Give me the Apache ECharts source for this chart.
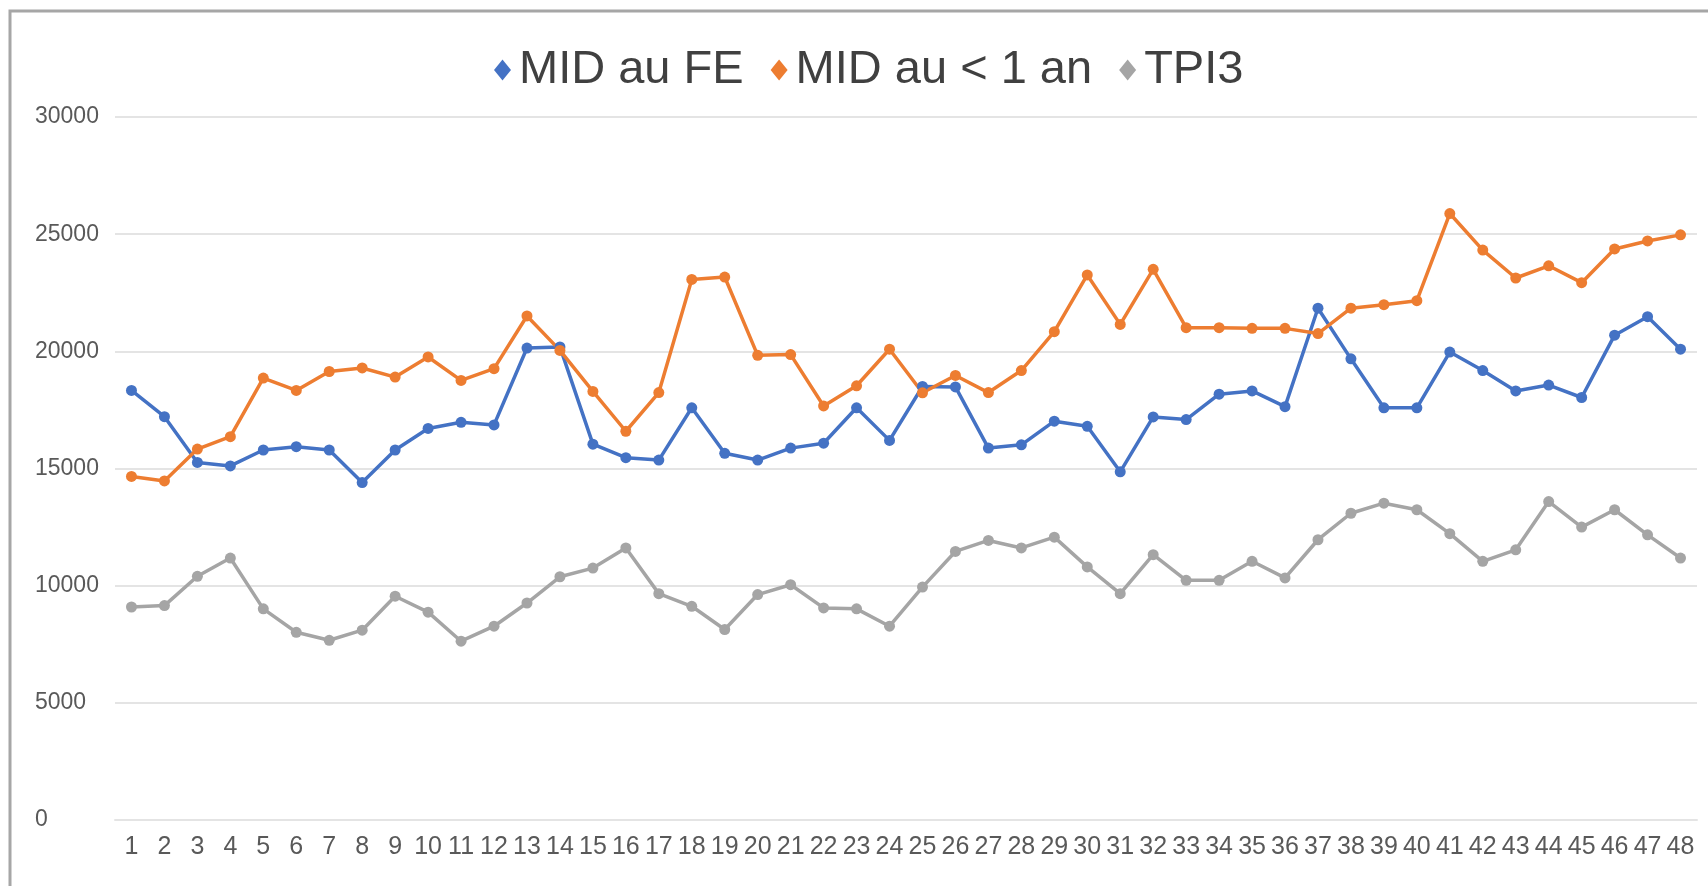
<!DOCTYPE html>
<html>
<head>
<meta charset="utf-8">
<script src="https://cdn.jsdelivr.net/npm/echarts@6/dist/echarts.min.js"></script>
<style>
    html, body {margin: 0; padding: 0; background: #ffffff;}
    #chart {width: 1708px; height: 886px;}
</style>
</head>
<body>
<div id="chart"></div>
<script>
//---------------------------Data---------------------------
//categories 1..48
let categories = ['1','2','3','4','5','6','7','8','9','10','11','12','13','14','15','16',
    '17','18','19','20','21','22','23','24','25','26','27','28','29','30','31','32',
    '33','34','35','36','37','38','39','40','41','42','43','44','45','46','47','48'];

let seriesNames = ['MID au FE', 'MID au < 1 an', 'TPI3'];

//MID au FE
let midFE = [18330, 17210, 15260, 15110, 15790, 15930, 15790, 14400, 15790, 16710,
    16970, 16860, 20140, 20190, 16040, 15460, 15360, 17590, 15650, 15360,
    15870, 16080, 17590, 16200, 18500, 18480, 15870, 16010, 17020, 16800,
    14860, 17200, 17090, 18170, 18310, 17640, 21840, 19680, 17590, 17590,
    19970, 19180, 18310, 18560, 18030, 20690, 21480, 20090];

//MID au < 1 an
let midUnAn = [14660, 14470, 15830, 16360, 18860, 18330, 19140, 19290, 18900, 19760,
    18760, 19260, 21510, 20040, 18290, 16590, 18240, 23070, 23170, 19830,
    19860, 17670, 18530, 20090, 18230, 18970, 18240, 19180, 20840, 23260,
    21150, 23500, 21010, 21010, 20980, 20980, 20760, 21840, 21990, 22160,
    25880, 24320, 23130, 23650, 22930, 24370, 24710, 24970];

//TPI3
let tpi3 = [9090, 9150, 10400, 11180, 9010, 8010, 7670, 8100, 9550, 8870,
    7630, 8270, 9260, 10380, 10750, 11610, 9660, 9120, 8130, 9620,
    10040, 9050, 9010, 8270, 9940, 11460, 11930, 11610, 12070, 10800,
    9660, 11320, 10230, 10230, 11040, 10330, 11960, 13090, 13520, 13240,
    12220, 11040, 11530, 13590, 12500, 13240, 12170, 11180];

let colors = ['#4472C4', '#ED7D31', '#A5A5A5'];

//---------------------------UI---------------------------
let chart = echarts.init(document.getElementById('chart'));
let font = '"Liberation Sans", Arial, sans-serif';

function makeLine(name, data, color) {
    return {
        name: name,
        type: 'line',
        data: data,
        symbol: 'circle',
        symbolSize: 11,
        color: color,
        lineStyle: {width: 3.5, color: color},
        itemStyle: {color: color},
        animation: false
    };
}

let option = {
    backgroundColor: '#ffffff',
    textStyle: {fontFamily: font},
    graphic: [{
        //outer frame of the chart
        type: 'rect',
        shape: {x: 10, y: 11, width: 1720, height: 900},
        style: {fill: 'none', stroke: '#a6a6a6', lineWidth: 3},
        silent: true
    }],
    legend: {
        left: 489,
        top: 40,
        icon: 'diamond',
        itemWidth: 17,
        itemHeight: 21,
        itemGap: 27,
        data: seriesNames,
        textStyle: {
            fontFamily: font,
            fontSize: 47,
            color: '#404040',
            lineHeight: 50,
            padding: [0, 0, 0, 3]
        }
    },
    grid: {left: 115, right: 11, top: 117, bottom: 66, containLabel: false},
    xAxis: {
        type: 'category',
        data: categories,
        boundaryGap: true,
        axisLine: {show: true, lineStyle: {color: '#e4e4e4', width: 2}},
        axisTick: {show: false},
        axisLabel: {
            interval: 0,
            margin: 15,
            fontFamily: font,
            fontSize: 25,
            color: '#595959'
        }
    },
    yAxis: {
        type: 'value',
        min: 0,
        max: 30000,
        interval: 5000,
        axisLine: {show: false},
        axisTick: {show: false},
        splitLine: {lineStyle: {color: '#e4e4e4', width: 2}},
        axisLabel: {
            align: 'left',
            margin: 80,
            fontFamily: font,
            fontSize: 23,
            color: '#595959',
            formatter: function (v) { return String(v); }
        }
    },
    series: [
        makeLine(seriesNames[0], midFE, colors[0]),
        makeLine(seriesNames[1], midUnAn, colors[1]),
        makeLine(seriesNames[2], tpi3, colors[2])
    ]
};

chart.setOption(option);
</script>
</body>
</html>
